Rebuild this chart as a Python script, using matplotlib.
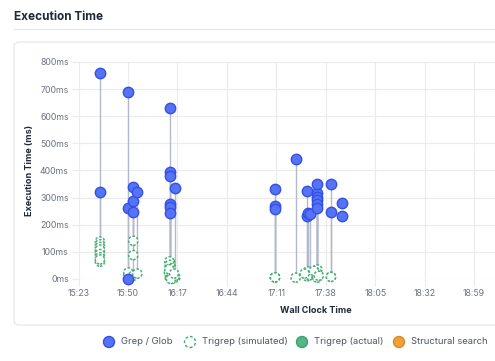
import matplotlib
matplotlib.use("Agg")
import matplotlib.pyplot as plt
from matplotlib.patches import FancyBboxPatch, Ellipse
from matplotlib.lines import Line2D

# times are minutes after 15:00
tick_labels = ["15:23", "15:50", "16:17", "16:44", "17:11", "17:38", "18:05", "18:32", "18:59"]

# grep / glob calls, each with the simulated trigrep time of the same query
grep_time = [34.7, 34.7, 50.2, 50.2, 50.0, 52.9, 52.9, 52.9, 55.1,
             72.9, 72.9, 72.9, 72.9, 73.2, 72.9, 75.9,
             130.3, 130.3, 130.3, 141.6, 147.9, 147.9, 148.3, 149.4,
             153.0, 153.4, 153.4, 153.4, 153.4, 153.4, 160.9, 160.9, 166.7, 166.7]
grep_ms = [761, 320, 688, 261, 0, 341, 287, 248, 321,
           630, 396, 381, 277, 267, 245, 337,
           331, 269, 257, 443, 325, 232, 242, 240,
           318, 349, 304, 292, 277, 261, 350, 247, 282, 234]
paired_sim_ms = [64, 100, 18, 24, None, 12, 141, 88, 20,
                 4, 30, 45, 12, 58, 20, 6,
                 6, 6, 6, 5, 18, 10, 28, 14,
                 8, 35, 22, 15, 10, 5, 8, 8, None, None]

# simulated trigrep runs with no grep partner
extra_sim_time = [34.7, 34.7, 34.7, 34.7, 34.7, 34.7, 34.7,
                  72.6, 72.8, 73.4, 72.4, 73.8, 75.5, 74.6, 73.5, 72.6, 75.2,
                  146.5, 151.5, 154.2]
extra_sim_ms = [138, 128, 118, 108, 92, 80, 72,
                65, 52, 40, 26, 15, 8, 2, 0, 36, 20,
                20, 30, 12]

actual_time = []
actual_ms = []

legend_items = ["Grep / Glob", "Trigrep (simulated)", "Trigrep (actual)", "Structural search"]

W, H = 495, 361
fig = plt.figure(figsize=(W / 100, H / 100), dpi=100)
plt.rcParams["font.family"] = ["Inter", "DejaVu Sans"]

# card and title
fig.text(14 / W, 1 - 17 / H, "Execution Time", fontsize=8.5, fontweight="bold",
         color="#1f2937", va="center", ha="left")
fig.add_artist(Line2D([14 / W, 1.0], [1 - 29 / H, 1 - 29 / H], color="#e5e7eb", lw=0.9))
card = FancyBboxPatch((14 / W, 1 - 325 / H), 1.2, (325 - 42) / H,
                      boxstyle="round,pad=0,rounding_size=0.012",
                      transform=fig.transFigure, facecolor="white",
                      edgecolor="#e5e7eb", lw=0.9, zorder=-5)
fig.add_artist(card)

left_px, right_px, top_px, bot_px = 78.5, 553.5, 62, 279
ax = fig.add_axes([left_px / W, 1 - bot_px / H, (right_px - left_px) / W, (bot_px - top_px) / H])
ax.set_facecolor("none")
ax.set_zorder(2)

tick_pos = [(int(s[:2]) - 15) * 60 + int(s[3:]) for s in tick_labels]
px_per_min = (474 - 78.5) / (tick_pos[-1] - tick_pos[0])
ax.set_xlim(tick_pos[0], tick_pos[0] + (right_px - left_px) / px_per_min)
ax.set_ylim(0, 800)

ax.set_xticks(tick_pos)
ax.set_xticklabels(tick_labels)
ax.set_yticks(range(0, 801, 100))
ax.set_yticklabels([f"{v}ms" for v in range(0, 801, 100)])
ax.grid(True, color="#ebebeb", lw=0.8)
ax.set_axisbelow(True)
for sp in ax.spines.values():
    sp.set_visible(False)
ax.tick_params(length=5, color="#ebebeb", width=0.8, labelsize=6.3,
               labelcolor="#6b7280", pad=2)

# connectors from grep to simulated trigrep
for t, g, s in zip(grep_time, grep_ms, paired_sim_ms):
    if s is not None:
        ax.plot([t, t], [g, s], color="#b3b8cc", lw=1, zorder=2)

sim_time = [t for t, s in zip(grep_time, paired_sim_ms) if s is not None] + extra_sim_time
sim_ms = [s for s in paired_sim_ms if s is not None] + extra_sim_ms

ax.scatter(sim_time, sim_ms, s=44, facecolor="white", edgecolor="#45ad72",
           linewidths=1.1, linestyle=(0, (1.6, 1.2)), zorder=3, clip_on=False)
ax.scatter(actual_time, actual_ms, s=48, facecolor="#52b788", edgecolor="#3f9e6e",
           linewidths=1.0, zorder=4, clip_on=False)
ax.scatter(grep_time, grep_ms, s=56, facecolor="#5673f5", edgecolor="#3350e6",
           linewidths=1.0, zorder=5, clip_on=False)

ax.set_ylabel("Execution Time (ms)", fontsize=6.5, fontweight="bold", color="#1e293b", labelpad=4)
ax.set_xlabel("Wall Clock Time", fontsize=6.5, fontweight="bold", color="#1e293b", labelpad=6)

# legend
legend_x = [109, 190, 302, 399]
ly = 1 - 342 / H
d = 11
styles = [dict(fc="#5673f5", ec="#3350e6", ls="-"),
          dict(fc="white", ec="#45ad72", ls=(0, (2, 1.5))),
          dict(fc="#52b788", ec="#3f9e6e", ls="-"),
          dict(fc="#f0a13a", ec="#d98a25", ls="-")]
for x, label, st in zip(legend_x, legend_items, styles):
    fig.add_artist(Ellipse((x / W, ly), d / W, d / H, transform=fig.transFigure,
                           facecolor=st["fc"], edgecolor=st["ec"], lw=1.0, linestyle=st["ls"]))
    fig.text((x + 12) / W, ly, label, fontsize=6.8, color="#4b5563", va="center", ha="left")

fig.savefig("out.png", dpi=100)
